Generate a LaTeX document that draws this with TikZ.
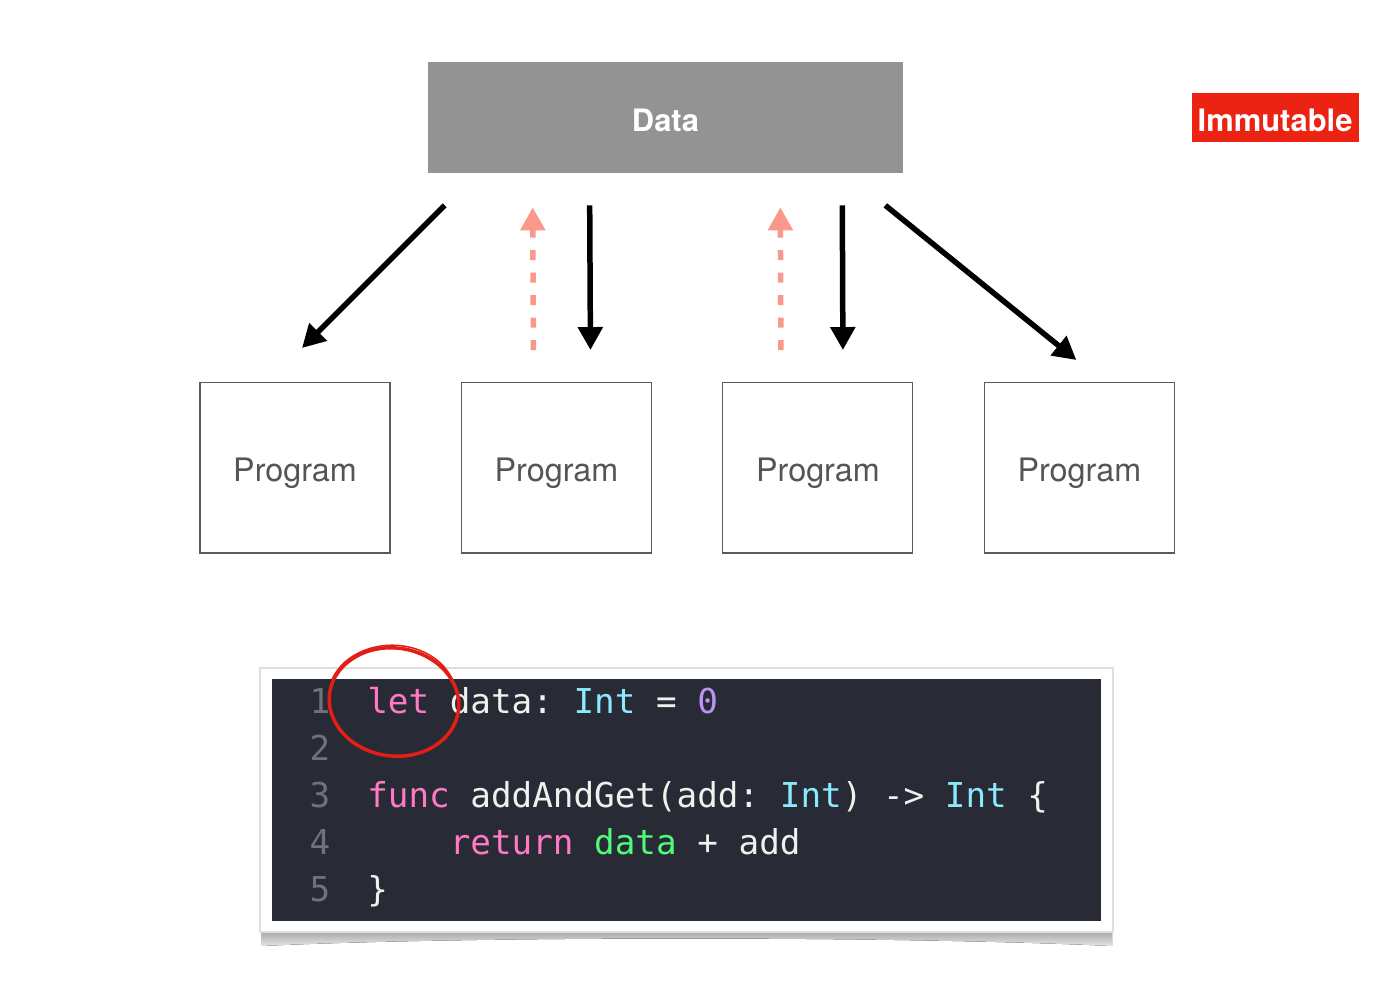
\documentclass[tikz,border=0pt]{standalone}
\usepackage{fontspec}
\setsansfont{TeX Gyre Heros}
\setmonofont{DejaVu Sans Mono}
\usetikzlibrary{positioning,arrows.meta,calc}
\definecolor{datagray}{RGB}{147,147,147}
\definecolor{boxgray}{RGB}{90,90,90}
\definecolor{txtgray}{RGB}{85,85,85}
\definecolor{immred}{RGB}{236,34,18}
\definecolor{backpink}{RGB}{250,152,140}
\definecolor{codebg}{RGB}{40,42,54}
\definecolor{numgray}{RGB}{112,114,122}
\definecolor{codewhite}{RGB}{240,240,236}
\definecolor{codepink}{RGB}{255,121,198}
\definecolor{codecyan}{RGB}{139,233,253}
\definecolor{codepurple}{RGB}{189,147,249}
\definecolor{codegreen}{RGB}{80,250,123}
\definecolor{circred}{RGB}{226,30,22}
\newcommand{\codesize}{\ttfamily\fontsize{19.5}{23}\selectfont}
\newcommand{\kwd}[1]{\textcolor{codepink}{#1}}
\newcommand{\typ}[1]{\textcolor{codecyan}{#1}}
\begin{document}
\begin{tikzpicture}[x=0.02cm,y=-0.02cm, >={Triangle[length=0.46cm,width=0.48cm]},
  prog/.style={draw=boxgray,line width=0.6pt,outer sep=0pt,minimum width=3.8cm,minimum height=3.42cm,
    text height=20pt,text depth=4pt,text=txtgray,font=\sffamily\fontsize{18.4}{22}\selectfont},
  label/.style={text=white,text height=16pt,text depth=0.6pt,font=\sffamily\bfseries\fontsize{17.6}{21}\selectfont},
  flow/.style={->,line width=0.11cm},
  back/.style={->,draw=backpink,line width=0.11cm,dash pattern=on 0.2cm off 0.25cm},
  num/.style={anchor=base,inner sep=0pt,text=numgray,font=\codesize},
  code/.style={anchor=base west,inner sep=0pt,text=codewhite,font=\codesize}]
  \useasboundingbox (0,0) rectangle (1386,992);
  % shared data and its label
  \node[label,fill=datagray,minimum width=9.5cm,minimum height=2.22cm](data) at (665.5,117.5){Data};
  \node[label,fill=immred,minimum width=3.34cm,minimum height=0.98cm,inner sep=0pt,
    right=5.76cm of data](imm){Immutable};
  % programs
  \foreach \i [remember=\i as \p (initially 1)] in {1,...,4}{
     \ifnum\i=1 \node[prog](p1) at (295,467.5){Program};
     \else \node[prog,right=1.43cm of p\p](p\i){Program}; \fi }
  % reads (black) and blocked writes (dashed)
  \draw[flow] ($(data.south west)+(17,32)$) -- ($(p1.north)+(7,-34)$);
  \draw[flow] ($(data.south west)+(162,32)$) -- ($(p2.north)+(34,-32)$);
  \draw[flow] ($(data.south east)+(-61,32)$) -- ($(p3.north)+(25,-32)$);
  \draw[flow] ($(data.south east)+(-18,32)$) -- ($(p4.north)+(-3,-22)$);
  \draw[back] ($(p2.north)+(-23,-32)$) -- ($(data.south west)+(105,34)$);
  \draw[back] ($(p3.north)+(-37,-32)$) -- ($(data.south east)+(-123,34)$);
  % code snippet
  \fill[top color=gray!70,bottom color=gray!20] (261,931) -- (1112,931) -- (1112,946)
    .. controls (900,936) and (470,936) .. (261,946) -- cycle;
  \node[fill=white,draw=gray!25,line width=1.2pt,minimum width=17.06cm,minimum height=5.28cm](frame) at (686.5,800){};
  \node[fill=codebg,minimum width=16.58cm,minimum height=4.86cm](code) at (686.5,800){};
  \foreach \n [count=\k from 0] in {1,...,5}
     \node[num](n\n) at (320,713+47*\k){\n};
  \node[code](c1) at (367,713){\kwd{let} data: \typ{Int} = \textcolor{codepurple}{0}};
  \node[code](c3) at (367,807){\kwd{func} addAndGet(add: \typ{Int}) -> \typ{Int} \{};
  \node[code](c4) at (367,854){\phantom{0000}\kwd{return} \textcolor{codegreen}{data} + add};
  \node[code](c5) at (367,901){\}};
  % hand-drawn mark
  \draw[circred,line width=0.07cm,rotate around={-8:(394,702)}] (394,702) ellipse [x radius=65,y radius=54];
  \draw[circred,line width=0.03cm] ($(394,702)+(200:66)$) arc[start angle=200,end angle=340,x radius=64,y radius=52];
\end{tikzpicture}
\end{document}
